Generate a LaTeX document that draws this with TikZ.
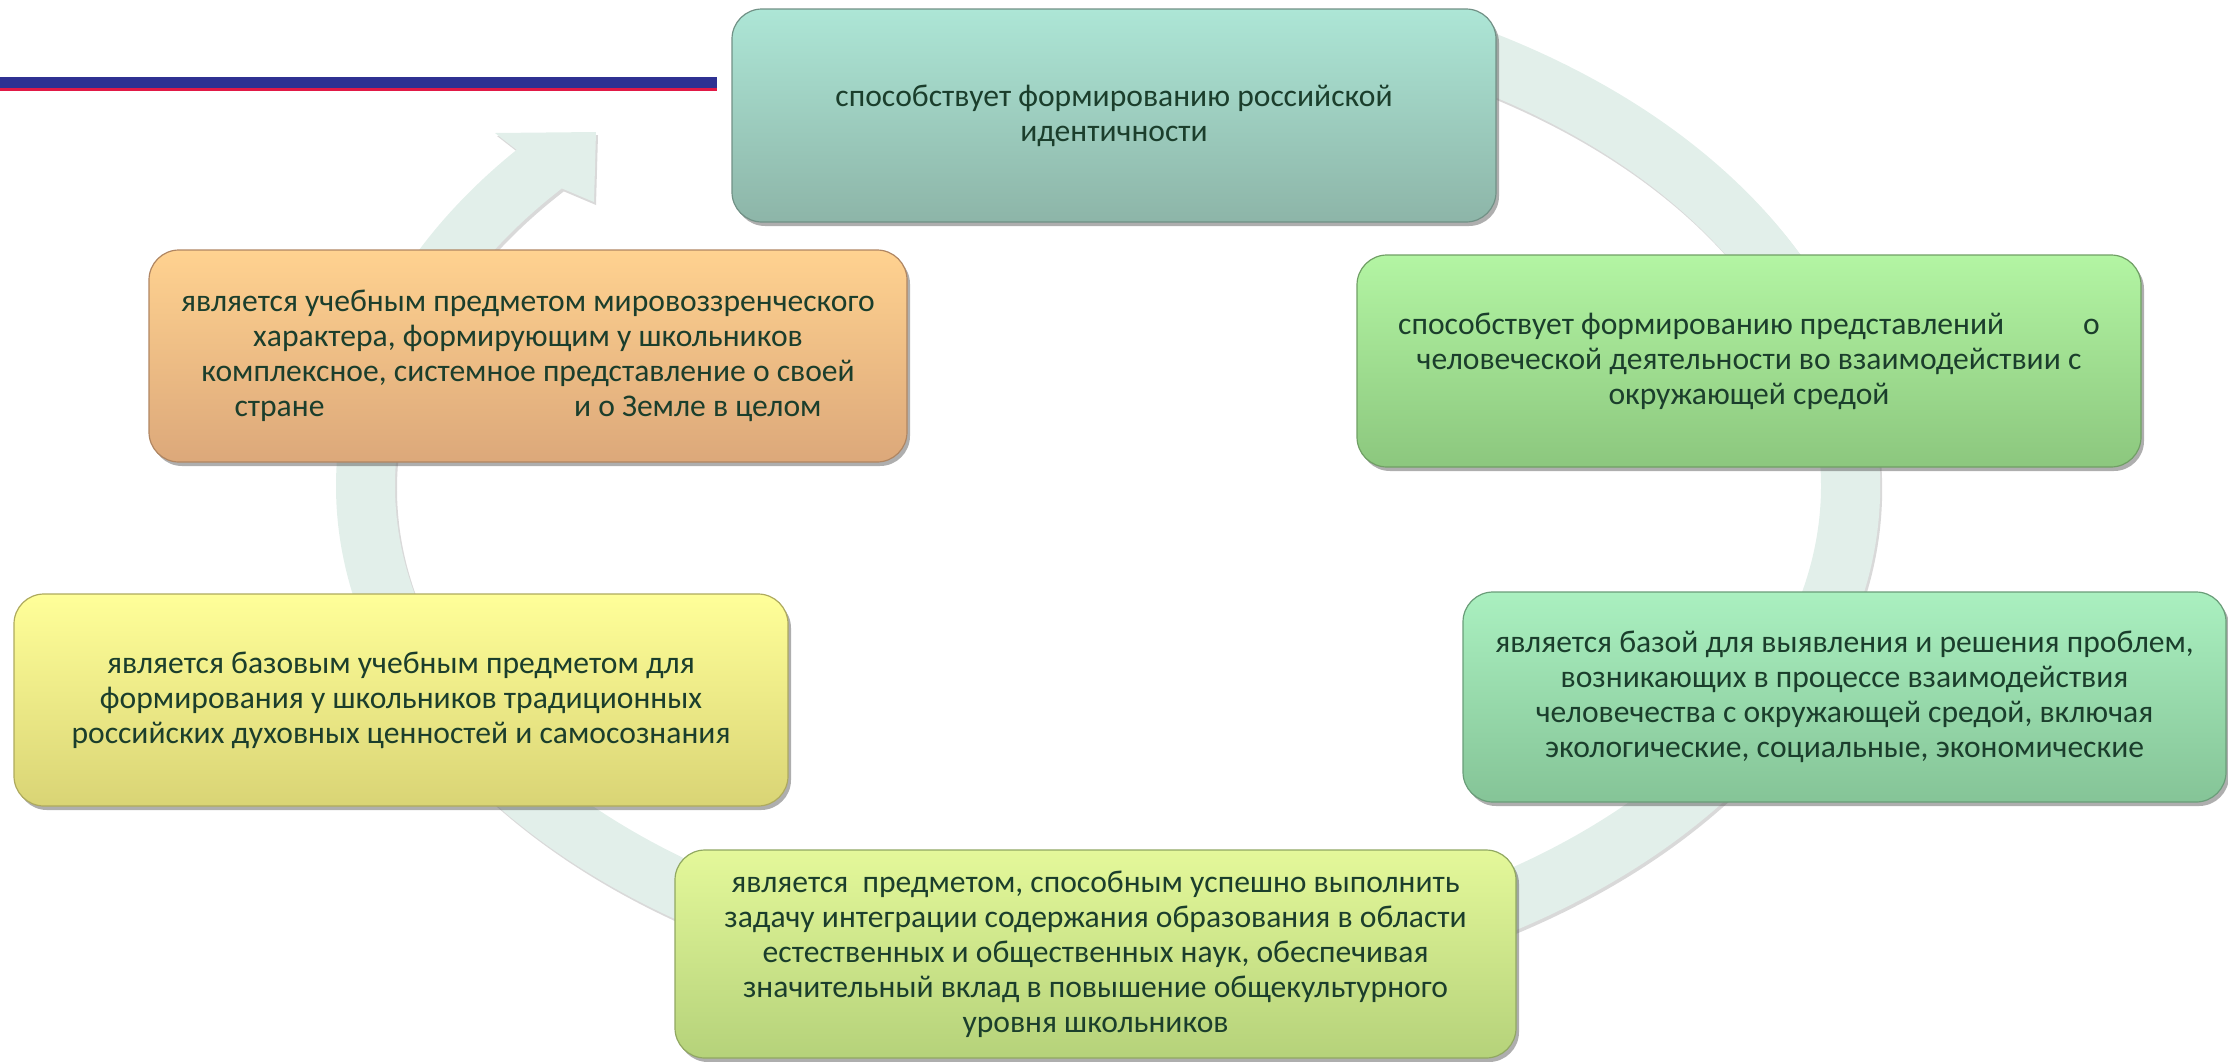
\documentclass[tikz,border=0pt]{standalone}
\usepackage{fontspec}
\setmainfont{Carlito}
\usepackage{xcolor}
\definecolor{TitleBlue}{RGB}{46,49,146}
\definecolor{TitleRed}{RGB}{225,25,70}
\definecolor{Ring}{RGB}{226,239,234}
\definecolor{TextGreen}{RGB}{27,62,44}
\definecolor{TealTop}{RGB}{173,230,214}
\definecolor{TealBot}{RGB}{141,181,168}
\definecolor{LimeTop}{RGB}{179,245,163}
\definecolor{LimeBot}{RGB}{140,199,126}
\definecolor{MintTop}{RGB}{170,240,192}
\definecolor{MintBot}{RGB}{133,196,151}
\definecolor{PearTop}{RGB}{228,248,154}
\definecolor{PearBot}{RGB}{181,210,122}
\definecolor{YellowTop}{RGB}{255,255,153}
\definecolor{YellowBot}{RGB}{217,212,117}
\definecolor{OrangeTop}{RGB}{255,210,144}
\definecolor{OrangeBot}{RGB}{220,168,122}
\usetikzlibrary{calc,shadows}

\tikzset{
  box/.style={rounded corners=15pt, align=center, inner sep=0pt,
    text=TextGreen, font=\fontsize{15.8}{17.5}\selectfont, line width=0.6pt,
    drop shadow={shadow xshift=1.5pt, shadow yshift=-2pt, opacity=0.45, fill=black!70}},
  ring/.style={fill=Ring,
    drop shadow={shadow xshift=1pt, shadow yshift=-1.5pt, opacity=0.15, fill=black}}
}

\begin{document}
\begin{tikzpicture}[x=0.5pt, y=0.5pt]
  \useasboundingbox (0,0) rectangle (2228,-1061);

  % Title bar
  \fill[TitleBlue] (0,-77) rectangle (717,-88);
  \fill[TitleRed] (0,-88) rectangle (717,-91);

  % Cycle arrow
  \coordinate (ctr) at (1108,-486);
  \fill[ring] ($(ctr)+(64:772 and 523)$)
    arc[start angle=64, end angle=-220, x radius=772, y radius=523]
    -- (495,-133) -- (596,-132) -- (594,-202)
    -- ($(ctr)+(-220:713 and 463)$)
    arc[start angle=-220, end angle=64, x radius=713, y radius=463] -- cycle;

  % Boxes
  \node[box, top color=TealTop, bottom color=TealBot, draw=TealBot!80!black,
    minimum width=382pt, minimum height=106.5pt] (identity) at (1114,-115.5)
    {способствует формированию российской\\идентичности};

  \node[box, top color=LimeTop, bottom color=LimeBot, draw=LimeBot!80!black,
    minimum width=392pt, minimum height=106pt] (activity) at (1749,-361)
    {способствует формированию представлений\hspace{2.5em}о\\человеческой деятельности во взаимодействии с\\окружающей средой};

  \node[box, top color=MintTop, bottom color=MintBot, draw=MintBot!80!black,
    minimum width=381.5pt, minimum height=105pt] (problems) at (1844.5,-697)
    {является базой для выявления и решения проблем,\\возникающих в процессе взаимодействия\\человечества с окружающей средой, включая\\экологические, социальные, экономические};

  \node[box, top color=PearTop, bottom color=PearBot, draw=PearBot!80!black,
    minimum width=420.5pt, minimum height=104pt] (integration) at (1095.5,-954)
    {является\ \ предметом, способным успешно выполнить\\задачу интеграции содержания образования в области\\естественных и общественных наук, обеспечивая\\значительный вклад в повышение общекультурного\\уровня школьников};

  \node[box, top color=YellowTop, bottom color=YellowBot, draw=YellowBot!80!black,
    minimum width=387pt, minimum height=106pt] (values) at (401,-700)
    {является базовым учебным предметом для\\формирования у школьников традиционных\\российских духовных ценностей и самосознания};

  \node[box, top color=OrangeTop, bottom color=OrangeBot, draw=OrangeBot!80!black,
    minimum width=379pt, minimum height=106pt] (worldview) at (528,-356)
    {является учебным предметом мировоззренческого\\характера, формирующим у школьников\\комплексное, системное представление о своей\\стране\hspace{7.9em}и о Земле в целом};

\end{tikzpicture}
\end{document}
